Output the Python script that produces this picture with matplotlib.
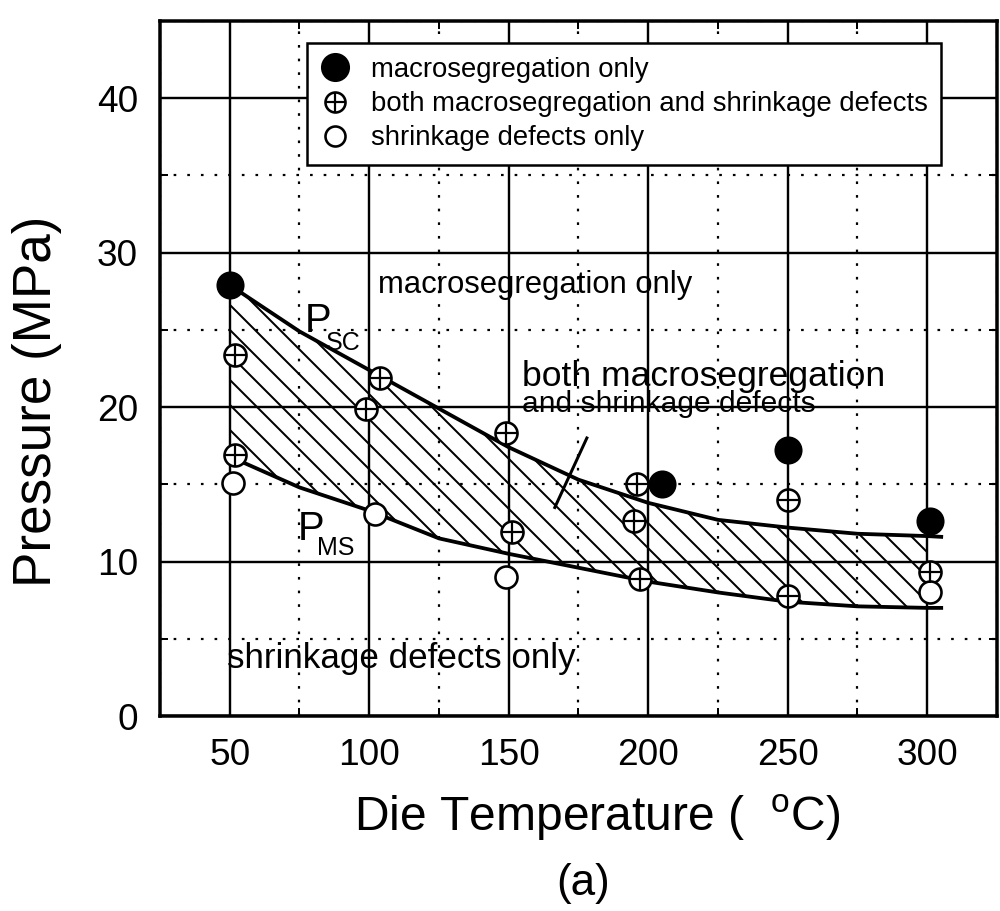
import numpy as np
import matplotlib
matplotlib.use("Agg")
import matplotlib.pyplot as plt
from matplotlib.lines import Line2D
from matplotlib.ticker import MultipleLocator

# dpi chosen so the hatch spacing comes out close to the scan
DPI = 150


def px(v):
    # pixel size -> points
    return v * 72.0 / DPI


plt.rcParams['font.family'] = ['Liberation Sans', 'DejaVu Sans']
plt.rcParams['hatch.linewidth'] = px(2)
plt.rcParams['hatch.color'] = 'black'
plt.rcParams['mathtext.fontset'] = 'custom'
plt.rcParams['mathtext.rm'] = 'Liberation Sans'

# --- data ---
macro_x = [50, 205, 250, 301]
macro_y = [27.9, 15.0, 17.2, 12.6]

both_x = [52, 52, 99, 104, 149, 151, 196, 195, 197, 250, 250, 301]
both_y = [23.4, 16.9, 19.9, 21.9, 18.3, 11.9, 15.0, 12.6, 8.9, 14.0, 7.8, 9.3]

shrink_x = [51, 102, 149, 301]
shrink_y = [15.1, 13.1, 9.0, 8.0]

curve_x = [50, 75, 100, 125, 150, 175, 200, 225, 250, 275, 300, 305]
p_sc = [27.9, 24.9, 22.4, 19.9, 17.4, 15.3, 13.8, 12.7, 12.2, 11.8, 11.65, 11.6]
p_ms = [16.8, 14.8, 13.3, 11.5, 10.5, 9.6, 8.7, 8.0, 7.4, 7.1, 7.0, 7.0]

pointer_x = [178, 166.5]
pointer_y = [18.0, 13.5]

x_ticks = [50, 100, 150, 200, 250, 300]
y_ticks = [0, 10, 20, 30, 40]

legend_labels = ["macrosegregation only",
                 "both macrosegregation and shrinkage defects",
                 "shrinkage defects only"]

# --- figure ---
fig = plt.figure(figsize=(1001 / DPI, 911 / DPI), dpi=DPI)
ax = fig.add_axes([160 / 1001, 1 - 716 / 911, 837 / 1001, 695 / 911])

ax.set_xlim(25, 325)
ax.set_ylim(0, 45)
ax.set_xticks(x_ticks)
ax.set_yticks(y_ticks)
ax.xaxis.set_minor_locator(MultipleLocator(25))
ax.yaxis.set_minor_locator(MultipleLocator(5))

ax.grid(which='major', color='black', lw=px(2.4))
ax.grid(which='minor', color='black', lw=px(2.2), linestyle=(0, (1.2, 5)))
ax.set_axisbelow(True)

ax.tick_params(which='both', direction='in', top=True, right=True,
               width=px(2), length=px(8), labelsize=px(37), pad=px(22))
for s in ax.spines.values():
    s.set_linewidth(px(3.5))

# hatched band between the two curves
cx = np.array(curve_x)
m = cx <= 300
ax.fill_between(cx[m], np.array(p_ms)[m], np.array(p_sc)[m],
                facecolor='none', edgecolor='black', hatch='\\\\', lw=0, zorder=2)

ax.plot(curve_x, p_sc, color='black', lw=px(3.8), zorder=3)
ax.plot(curve_x, p_ms, color='black', lw=px(3.8), zorder=3)
ax.plot(pointer_x, pointer_y, color='black', lw=px(3), zorder=3)

ms_fill = px(26)
ms_open = px(22)
mew = px(2.6)
ax.plot(macro_x, macro_y, 'o', color='black', ms=ms_fill, zorder=5)
ax.plot(both_x, both_y, 'o', mfc='white', mec='black', ms=ms_open, mew=mew, zorder=5)
ax.plot(both_x, both_y, '+', color='black', ms=ms_open, mew=px(2.2), zorder=6)
ax.plot(shrink_x, shrink_y, 'o', mfc='white', mec='black', ms=ms_open, mew=mew, zorder=5)

# region labels
ax.text(103, 27.4, "macrosegregation only", fontsize=px(31), va='baseline', zorder=4)
ax.text(154.6, 21.35, "both macrosegregation", fontsize=px(35.5), va='baseline', zorder=4)
ax.text(154.6, 19.7, "and shrinkage defects", fontsize=px(30), va='baseline', zorder=4)
ax.text(48.9, 3.1, "shrinkage defects only", fontsize=px(35), va='baseline', zorder=4)

# curve names: big P with a dropped subscript
ax.text(76.9, 24.85, "P", fontsize=px(40), va='baseline', zorder=4)
ax.text(84.5, 23.7, "SC", fontsize=px(25), va='baseline', zorder=4)
ax.text(74.4, 11.4, "P", fontsize=px(40), va='baseline', zorder=4)
ax.text(81.3, 10.4, "MS", fontsize=px(25), va='baseline', zorder=4)

# legend
h_fill = Line2D([], [], ls='none', marker='o', color='black', ms=px(27))
h_open = Line2D([], [], ls='none', marker='o', mfc='white', mec='black', ms=px(20), mew=mew)
h_plus = Line2D([], [], ls='none', marker='+', color='black', ms=px(20), mew=px(2.2))
leg = ax.legend([h_fill, (h_open, h_plus), h_open], legend_labels,
                loc='upper left', bbox_to_anchor=(0.176, 0.968), borderaxespad=0,
                fontsize=px(27.5), handlelength=1.0, handletextpad=0.8,
                borderpad=0.5, labelspacing=0.3, fancybox=False, framealpha=1,
                edgecolor='black')
leg.get_frame().set_linewidth(px(2.5))
leg.set_zorder(10)

ax.set_xlabel(r"Die Temperature (  $\mathregular{^{o}}$C)", fontsize=px(48), va='center', ha='center')
ax.xaxis.set_label_coords(0.522, -0.147)
ax.set_ylabel("Pressure (MPa)", fontsize=px(53), va='center', ha='center')
ax.yaxis.set_label_coords(-0.147, 0.452)

fig.text(583 / 1001, 1 - 883 / 911, "(a)", fontsize=px(44), ha='center', va='center')

fig.savefig("out.png", dpi=DPI)
